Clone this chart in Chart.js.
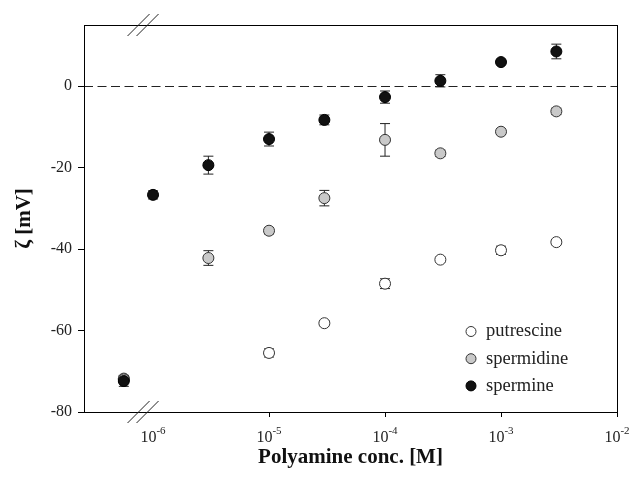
<!DOCTYPE html>
<html lang="en">
<head>
<meta charset="UTF-8">
<title>Zeta potential vs polyamine concentration</title>
<script src="https://cdn.jsdelivr.net/npm/chart.js"></script>
<style>
  html, body { margin: 0; padding: 0; background: #fff; }
  #wrap { width: 630px; height: 478px; }
</style>
</head>
<body>
<div id="wrap"><canvas id="zeta"></canvas></div>
<script>
// concentrations [M]
const conc = [5.6e-7, 1e-6, 3e-6, 1e-5, 3e-5, 1e-4, 3e-4, 1e-3, 3e-3];

const putrescine    = [-71.8, null, null, -65.5, -58.2, -48.5, -42.6, -40.3, -38.3];
const putrescineErr = [0.8, null, null, 1.0, 0.6, 1.2, 0.6, 1.0, 0.6];

const spermidine    = [-72.0, null, -42.2, -35.5, -27.5, -13.2, -16.5, -11.2, -6.2];
const spermidineErr = [0.8, null, 1.8, 0.8, 1.9, 4.0, 0.8, 0.7, 0.8];

const spermine      = [-72.4, -26.7, -19.4, -13.0, -8.3, -2.7, 1.3, 5.9, 8.5];
const spermineErr   = [1.3, 1.0, 2.2, 1.7, 1.2, 1.5, 1.5, 0.5, 1.8];

const yTicks = [-80, -60, -40, -20, 0];
const xTicks = [1e-6, 1e-5, 1e-4, 1e-3, 1e-2];
const breakAt = 8.2e-7;

const SERIF = '"Liberation Serif", "DejaVu Serif", serif';

function pts(vals) {
  return conc.map((c, i) => ({ x: c, y: vals[i] })).filter(p => p.y !== null);
}
function errs(vals, e) {
  return conc.map((c, i) => e[i]).filter((_, i) => vals[i] !== null);
}

const datasets = [
  { label: 'spermine', data: pts(spermine), err: errs(spermine, spermineErr),
    backgroundColor: '#111', borderColor: '#000', order: 0 },
  { label: 'spermidine', data: pts(spermidine), err: errs(spermidine, spermidineErr),
    backgroundColor: '#c9c9c9', borderColor: '#333', order: 1 },
  { label: 'putrescine', data: pts(putrescine), err: errs(putrescine, putrescineErr),
    backgroundColor: '#fff', borderColor: '#333', order: 2 }
].map(d => Object.assign(d, { pointRadius: 5.5, pointBorderWidth: 1, showLine: false }));

// error bars, under the markers
const errorBars = {
  id: 'errorBars',
  beforeDatasetsDraw(chart) {
    const ctx = chart.ctx, y = chart.scales.y;
    ctx.save();
    ctx.strokeStyle = '#222';
    ctx.lineWidth = 1;
    chart.data.datasets.forEach((ds, i) => {
      chart.getDatasetMeta(i).data.forEach((el, j) => {
        const e = ds.err[j];
        if (!e) return;
        const v = ds.data[j].y;
        const t = y.getPixelForValue(v + e), b = y.getPixelForValue(v - e);
        ctx.beginPath();
        ctx.moveTo(el.x, t); ctx.lineTo(el.x, b);
        ctx.moveTo(el.x - 5, t); ctx.lineTo(el.x + 5, t);
        ctx.moveTo(el.x - 5, b); ctx.lineTo(el.x + 5, b);
        ctx.stroke();
      });
    });
    ctx.restore();
  }
};

// frame, zero line, axis breaks, x labels, legend
const decorations = {
  id: 'decorations',
  beforeDatasetsDraw(chart) {
    const { ctx, chartArea: a, scales: { y } } = chart;
    const y0 = Math.round(y.getPixelForValue(0)) + 0.5;
    ctx.save();
    ctx.strokeStyle = '#222';
    ctx.lineWidth = 1;
    ctx.setLineDash([9, 4.5]);
    ctx.beginPath();
    ctx.moveTo(a.left, y0); ctx.lineTo(a.right, y0);
    ctx.stroke();
    ctx.restore();
  },
  afterDraw(chart) {
    const { ctx, chartArea: a, scales: { x } } = chart;
    ctx.save();
    ctx.strokeStyle = '#000';
    ctx.lineWidth = 1;
    ctx.strokeRect(a.left + 0.5, a.top + 0.5, a.right - a.left, a.bottom - a.top);

    // axis break marks
    const bx = x.getPixelForValue(breakAt);
    ctx.strokeStyle = '#222';
    [a.top, a.bottom].forEach(by => {
      [-4.5, 4.5].forEach(dx => {
        ctx.beginPath();
        ctx.moveTo(bx + dx - 11, by + 11);
        ctx.lineTo(bx + dx + 11, by - 11);
        ctx.stroke();
      });
    });

    // x tick labels 10^n
    ctx.fillStyle = '#222';
    ctx.textBaseline = 'middle';
    xTicks.forEach(v => {
      const px = x.getPixelForValue(v);
      const exp = String(Math.round(Math.log10(v)));
      ctx.font = '16px ' + SERIF;
      const w1 = ctx.measureText('10').width;
      ctx.font = '11px ' + SERIF;
      const w2 = ctx.measureText(exp).width;
      const start = px - (w1 + w2) / 2;
      ctx.font = '16px ' + SERIF;
      ctx.textAlign = 'left';
      ctx.fillText('10', start, 438);
      ctx.font = '11px ' + SERIF;
      ctx.fillText(exp, start + w1, 431);
    });

    // legend
    const order = ['putrescine', 'spermidine', 'spermine'];
    order.forEach((name, k) => {
      const ds = chart.data.datasets.find(d => d.label === name);
      const ly = 331.5 + k * 27.2;
      ctx.beginPath();
      ctx.arc(471, ly, 5, 0, Math.PI * 2);
      ctx.fillStyle = ds.backgroundColor;
      ctx.fill();
      ctx.strokeStyle = ds.borderColor;
      ctx.stroke();
      ctx.fillStyle = '#222';
      ctx.font = '18.5px ' + SERIF;
      ctx.textAlign = 'left';
      ctx.fillText(name, 486, ly);
    });
    ctx.restore();
  }
};

new Chart(document.getElementById('zeta'), {
  type: 'scatter',
  data: { datasets },
  options: {
    responsive: true,
    maintainAspectRatio: false,
    animation: false,
    layout: { padding: { top: 25, right: 13, left: 0, bottom: 0 } },
    plugins: { legend: { display: false }, tooltip: { enabled: false } },
    scales: {
      x: {
        type: 'logarithmic',
        min: 2.54e-7,
        max: 1e-2,
        afterBuildTicks: s => { s.ticks = xTicks.map(v => ({ value: v })); },
        afterFit: s => { s.height = 66; },
        ticks: { display: false },
        grid: {
          drawOnChartArea: false, drawTicks: true, tickLength: 5,
          color: c => (c.tick && c.tick.value < 5e-6) ? 'rgba(0,0,0,0)' : '#000'
        },
        border: { display: true, color: '#000', width: 1 },
        title: {
          display: true, text: 'Polyamine conc. [M]', color: '#111',
          font: { family: SERIF, size: 21, weight: 'bold' },
          padding: { top: 0, bottom: 8 }
        }
      },
      y: {
        min: -80,
        max: 15,
        afterBuildTicks: s => { s.ticks = yTicks.map(v => ({ value: v })); },
        afterFit: s => { s.width = 84; },
        ticks: { color: '#222', padding: 6, font: { family: SERIF, size: 16 } },
        grid: { drawOnChartArea: false, drawTicks: true, tickLength: 6, color: '#000' },
        border: { display: true, color: '#000', width: 1 },
        title: {
          display: true, text: 'ζ [mV]', color: '#111',
          font: { family: SERIF, size: 21, weight: 'bold' },
          padding: { top: 12, bottom: 0 }
        }
      }
    }
  },
  plugins: [errorBars, decorations]
});
</script>
</body>
</html>
